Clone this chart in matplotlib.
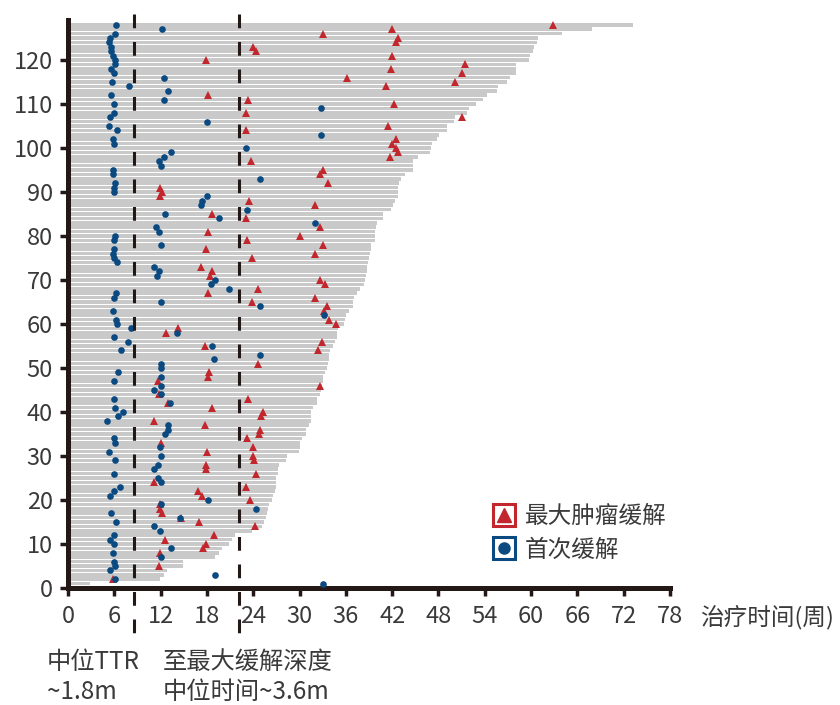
import numpy as np
import matplotlib
matplotlib.use("Agg")
import matplotlib.pyplot as plt
from matplotlib.lines import Line2D
from matplotlib.legend_handler import HandlerTuple

plt.rcParams['font.family'] = ['Noto Sans CJK SC', 'DejaVu Sans']

nan = np.nan

# treatment duration per patient (weeks), bottom row first
bar_len = [2.8, 11.9, 12.5, 12.8, 14.9, 14.9, 19.0, 19.6, 20.0, 20.8,
           21.2, 21.6, 23.9, 25.2, 25.4, 25.6, 25.8, 25.9, 26.1, 26.4,
           26.5, 26.8, 26.9, 26.9, 26.9, 27.2, 27.2, 27.4, 28.2, 28.4,
           29.9, 30.0, 30.1, 30.3, 30.9, 30.9, 31.2, 31.5, 31.5, 31.5,
           31.8, 32.2, 32.2, 32.6, 32.8, 32.9, 33.0, 33.1, 33.3, 33.5,
           33.7, 33.8, 33.8, 34.0, 34.3, 34.6, 34.8, 34.8, 35.0, 35.8,
           35.9, 36.0, 36.4, 36.9, 36.9, 37.1, 37.4, 37.8, 38.3, 38.5,
           38.6, 38.7, 38.8, 38.9, 39.0, 39.1, 39.2, 39.2, 39.8, 39.8,
           39.8, 39.9, 40.1, 40.8, 40.8, 41.9, 42.1, 42.4, 42.7, 42.8,
           42.8, 42.9, 43.2, 43.7, 44.7, 44.7, 44.7, 45.3, 46.9, 47.0,
           47.2, 47.8, 48.1, 49.1, 49.1, 50.0, 50.1, 51.7, 52.0, 52.9,
           53.8, 54.3, 55.6, 55.7, 56.9, 57.3, 58.1, 58.1, 58.1, 59.7,
           59.9, 60.2, 60.4, 60.8, 60.9, 64.0, 67.9, 73.2]

# time of first response (weeks)
first_resp = [33.0, 6.1, 19.1, 5.4, 6.1, 5.9, 12.0, 5.8, 13.3, 5.9,
              5.4, 5.9, 11.9, 11.2, 6.2, 14.5, 5.6, 24.4, 12.0, 18.2,
              5.4, 6.0, 6.8, 12.0, 11.6, 5.9, 11.2, 11.6, 6.1, 12.1,
              5.3, 11.9, 6.1, 5.9, 12.6, 13.0, 12.9, 5.0, 6.5, 7.1,
              6.1, 13.2, 5.9, 12.0, 11.2, 12.0, 5.9, 12.0, 6.5, 12.0,
              12.0, 18.9, 24.9, 6.9, 18.7, 7.8, 5.9, 14.1, 8.2, 6.3,
              6.2, 33.2, 5.8, 24.9, 12.0, 5.9, 6.2, 20.9, 18.5, 19.0,
              11.5, 11.8, 11.2, 6.4, 5.9, 5.8, 6.0, 12.0, 5.9, 6.1,
              11.8, 11.4, 32.0, 19.5, 12.6, 23.2, 17.2, 17.4, 18.0, 5.9,
              5.9, 6.1, 24.9, 5.8, 5.8, 12.0, 11.8, 12.4, 13.3, 23.0,
              6.0, 5.8, 32.8, 6.4, 5.3, 18.0, 5.4, 6.0, 32.8, 5.9,
              12.4, 5.6, 12.9, 7.9, 5.7, 12.4, 5.9, 5.6, 6.1, 6.1,
              5.8, 5.6, 5.6, 5.3, 5.4, 6.1, 12.2, 6.2]

# time of maximum tumour response (weeks)
max_resp = [nan, 5.8, nan, nan, 11.8, nan, nan, 11.9, 17.5, 17.9,
            12.6, 18.9, nan, 24.2, 17.0, 14.7, 12.2, 11.9, 11.9, 23.6,
            17.3, 16.9, 23.0, 11.2, nan, 24.3, 17.9, 17.9, 24.1, 24.0,
            18.0, 24.0, 12.0, 23.2, 24.7, 24.9, 17.8, 11.1, 25.0, 25.3,
            18.6, 13.0, 23.3, 11.8, nan, 32.6, 11.7, 18.2, 18.3, nan,
            24.6, nan, nan, 32.4, 17.7, 32.9, nan, 12.7, 14.3, 34.7,
            33.8, nan, 33.2, 33.6, 23.9, 32.0, 18.2, 24.6, 33.3, 32.6,
            18.4, 18.6, 17.2, nan, 23.8, 32.0, 17.9, 33.0, 23.2, 30.0,
            18.1, 32.7, nan, 23.1, 18.6, nan, 32.0, 23.5, 11.9, 12.2,
            11.9, 33.7, nan, 32.6, 33.0, nan, 23.7, 41.7, 42.7, 42.5,
            42.0, 42.5, nan, 23.1, 41.4, nan, 51.0, 23.1, nan, 42.2,
            23.3, 18.2, nan, 41.2, 50.1, 36.1, 51.0, 41.9, 51.5, 17.9,
            42.0, 24.3, 24.0, 42.5, 42.7, 33.1, 42.0, 62.9]

median_ttr = 8.5
median_best = 22.2
x_ticks = list(range(0, 79, 6))
y_ticks = list(range(0, 121, 10))

grey = '#c9c9c9'
red = '#c1272d'
blue = '#0b4a80'
dark = '#231815'
txt = '#3a3a3a'

patients = np.arange(1, len(bar_len) + 1)

fig = plt.figure(figsize=(8.4, 7.05), dpi=100)
ax = fig.add_axes([68 / 840, 117 / 705, 602 / 840, 568 / 705])

ax.barh(patients, bar_len, height=0.8, color=grey, edgecolor='none', zorder=1)
ax.plot(max_resp, patients, '^', color=red, ms=5.2, mew=0, zorder=3)
ax.plot(first_resp, patients, 'o', color=blue, ms=4.8, mew=0, zorder=3)

# median reference lines, running a little past the axes
for xv in (median_ttr, median_best):
    ax.plot([xv, xv], [130.5, -10.6], color=dark, lw=2.2, ls=(0, (4.5, 4.5)),
            clip_on=False, zorder=4)

ax.set_xlim(0, 78)
ax.set_ylim(0, 129.1)
ax.set_xticks(x_ticks)
ax.set_yticks(y_ticks)
for s in ('top', 'right'):
    ax.spines[s].set_visible(False)
for s in ('left', 'bottom'):
    ax.spines[s].set_linewidth(3.6)
    ax.spines[s].set_color(dark)
ax.tick_params(axis='both', direction='out', length=6, width=2.5, color=dark,
               labelsize=17, labelcolor=txt)
ax.tick_params(axis='y', pad=5)
ax.tick_params(axis='x', pad=6)
for lab in ax.get_xticklabels() + ax.get_yticklabels():
    lab.set_fontweight('light')

fig.text(700 / 840, 1 - 617 / 705, '治疗时间(周)', fontsize=17, color=txt,
         va='center', ha='left', fontweight='light')
fig.text(47 / 840, 1 - 649 / 705, '中位TTR\n~1.8m', fontsize=17.5, color=txt,
         va='top', ha='left', linespacing=1.2, fontweight='light')
fig.text(163 / 840, 1 - 649 / 705, '至最大缓解深度\n中位时间~3.6m', fontsize=17.5,
         color=txt, va='top', ha='left', linespacing=1.2, fontweight='light')

h_max = (Line2D([], [], marker='s', ms=16, mfc='white', mec=red, mew=2.2, ls=''),
         Line2D([], [], marker='^', ms=9.5, color=red, ls=''))
h_first = (Line2D([], [], marker='s', ms=16, mfc='white', mec=blue, mew=2.2, ls=''),
           Line2D([], [], marker='o', ms=8, color=blue, ls=''))
fig.legend([h_max, h_first], ['最大肿瘤缓解', '首次缓解'],
           handler_map={tuple: HandlerTuple(ndivide=1)},
           loc='upper left', bbox_to_anchor=(492 / 840, 1 - 505 / 705),
           frameon=False, handlelength=1.0, handletextpad=0.4,
           labelspacing=0.45, borderpad=0, borderaxespad=0, labelcolor=txt,
           prop={'weight': 'light', 'size': 17})

fig.savefig('out.png', dpi=100)
